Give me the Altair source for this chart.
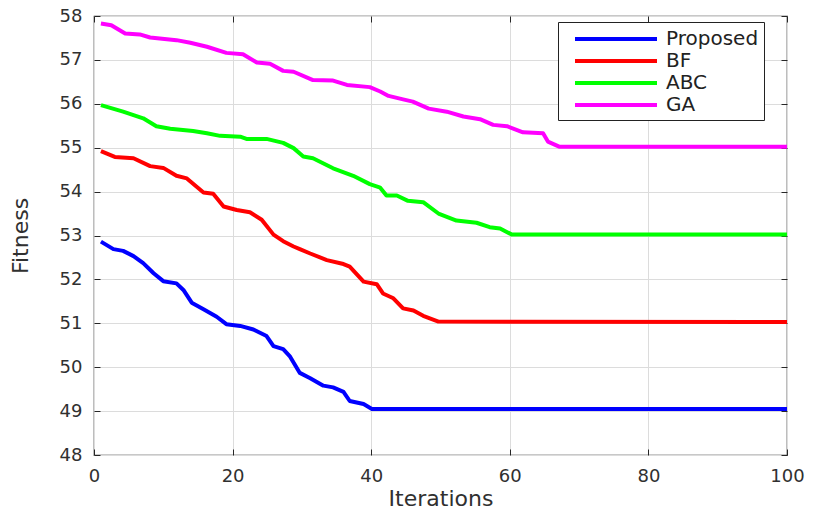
import altair as alt
import pandas as pd

series_names = ["Proposed", "BF", "ABC", "GA"]
series_colors = ["#0000ff", "#ff0000", "#00ff00", "#ff00ff"]

proposed_x = [1, 2.8, 4.2, 5.7, 7.1, 8.6, 10, 11.9, 12.9, 14.1, 15.8, 17.7, 19.1, 21.1, 23, 24.9, 25.9, 27.3, 28.3, 29.7, 31.2, 33.1, 34.5, 36, 36.9, 38.9, 40.1, 100]
proposed_y = [52.86, 52.69, 52.65, 52.53, 52.37, 52.14, 51.96, 51.91, 51.76, 51.47, 51.32, 51.15, 50.98, 50.94, 50.86, 50.71, 50.48, 50.41, 50.24, 49.87, 49.75, 49.58, 49.54, 49.44, 49.23, 49.16, 49.05, 49.05]

bf_x = [1, 3, 5.7, 8.1, 10, 11.9, 13.4, 15.8, 17.2, 18.7, 20.6, 22.5, 24.2, 25.9, 27.3, 28.8, 29.7, 31.2, 33.6, 36, 36.9, 38.9, 40.8, 41.7, 43.2, 44.6, 46.1, 47.5, 49.7, 100]
bf_y = [54.92, 54.79, 54.76, 54.58, 54.54, 54.36, 54.30, 53.98, 53.95, 53.66, 53.58, 53.53, 53.36, 53.02, 52.87, 52.75, 52.69, 52.59, 52.44, 52.35, 52.29, 51.95, 51.89, 51.68, 51.57, 51.34, 51.29, 51.17, 51.04, 51.03]

abc_x = [1, 4.2, 7.1, 9, 11, 14.3, 16.3, 18.2, 21.1, 22, 24.9, 27.3, 28.8, 30.2, 31.6, 34.5, 37.4, 39.8, 41.3, 42.2, 43.7, 45.3, 47.5, 49.8, 52.3, 55.2, 57.1, 58.6, 60.3, 100]
abc_y = [55.97, 55.82, 55.67, 55.49, 55.43, 55.38, 55.33, 55.27, 55.25, 55.20, 55.20, 55.11, 54.99, 54.80, 54.76, 54.53, 54.36, 54.17, 54.09, 53.91, 53.91, 53.79, 53.76, 53.49, 53.34, 53.29, 53.19, 53.16, 53.02, 53.02]

ga_x = [1, 2.5, 4.5, 6.6, 8.1, 11.9, 13.9, 16.3, 19.1, 21.5, 23.5, 25.4, 27.3, 28.8, 31.6, 34.5, 36.5, 39.8, 41.3, 42.5, 44.6, 46, 48.3, 50.9, 53.3, 55.7, 57.6, 59.6, 61.9, 64.8, 65.5, 67.2, 100]
ga_y = [57.83, 57.79, 57.60, 57.58, 57.51, 57.45, 57.39, 57.30, 57.16, 57.13, 56.94, 56.91, 56.75, 56.73, 56.54, 56.53, 56.43, 56.38, 56.28, 56.18, 56.10, 56.05, 55.89, 55.82, 55.71, 55.65, 55.52, 55.49, 55.35, 55.33, 55.14, 55.02, 55.02]

x_ticks = [0, 20, 40, 60, 80, 100]
y_ticks = [48, 49, 50, 51, 52, 53, 54, 55, 56, 57, 58]

rows = []
for name, xs, ys in [("Proposed", proposed_x, proposed_y), ("BF", bf_x, bf_y),
                     ("ABC", abc_x, abc_y), ("GA", ga_x, ga_y)]:
    for i, (a, b) in enumerate(zip(xs, ys)):
        rows.append({"Iteration": a, "Fitness": b, "Method": name, "order": i})
df = pd.DataFrame(rows)

FONT = "DejaVu Sans"
TXT = "#303030"
TICK = "#262626"

xscale = alt.Scale(domain=[0, 100], nice=False)
yscale = alt.Scale(domain=[48, 58], nice=False, zero=False)

lines = alt.Chart(df).mark_line(strokeWidth=4, strokeJoin="round").encode(
    x=alt.X("Iteration:Q", scale=xscale,
            axis=alt.Axis(values=x_ticks, title="Iterations", grid=True, ticks=True,
                          tickSize=6, offset=-6, tickColor=TICK, tickWidth=1,
                          domain=False, labelPadding=12, labelFontSize=18,
                          titleFontSize=22, titleFontWeight="normal",
                          titleBaseline="alphabetic", titleY=56,
                          labelFont=FONT, titleFont=FONT, labelColor=TXT, titleColor=TXT,
                          gridColor="#dcdcdc", labelFlush=False)),
    y=alt.Y("Fitness:Q", scale=yscale,
            axis=alt.Axis(values=y_ticks, title="Fitness", grid=True, ticks=True,
                          tickSize=6, offset=-6, tickColor=TICK, tickWidth=1,
                          domain=False, labelPadding=12, labelFontSize=18,
                          titleFontSize=22, titleFontWeight="normal",
                          titleX=-68, titleY=219.5,
                          labelFont=FONT, titleFont=FONT, labelColor=TXT, titleColor=TXT,
                          gridColor="#dcdcdc", labelFlush=False)),
    color=alt.Color("Method:N", scale=alt.Scale(domain=series_names, range=series_colors),
                    legend=alt.Legend(title=None, orient="none", legendX=464, legendY=6,
                                      strokeColor="#222222", fillColor="white", padding=5,
                                      symbolType="M 0,0 H 8.2", symbolSize=400,
                                      symbolStrokeWidth=4, labelOffset=79,
                                      labelFontSize=20, labelFont=FONT, labelColor="#222222",
                                      rowPadding=0, labelExpr="datum.label + '  '")),
    order="order:Q",
)

frame_ticks = alt.Chart(df).mark_line(strokeOpacity=0).encode(
    x=alt.X("Iteration:Q", scale=xscale,
            axis=alt.Axis(orient="top", values=x_ticks, title=None, grid=False, labels=False,
                          ticks=True, tickSize=6, offset=-6, tickColor=TICK, tickWidth=1,
                          domain=False)),
    y=alt.Y("Fitness:Q", scale=yscale,
            axis=alt.Axis(orient="right", values=y_ticks, title=None, grid=False, labels=False,
                          ticks=True, tickSize=6, offset=-6, tickColor=TICK, tickWidth=1,
                          domain=False)),
    detail="Method:N",
)

chart = alt.layer(frame_ticks, lines).resolve_axis(x="independent", y="independent").properties(
    width=693, height=439,
    autosize=alt.AutoSizeParams(type="none"),
    padding={"left": 86, "top": 8, "right": 19, "bottom": 55},
).configure_view(stroke="#262626", strokeWidth=1.2)

chart.save("out.html", embed_options={"renderer": "svg", "actions": False})
